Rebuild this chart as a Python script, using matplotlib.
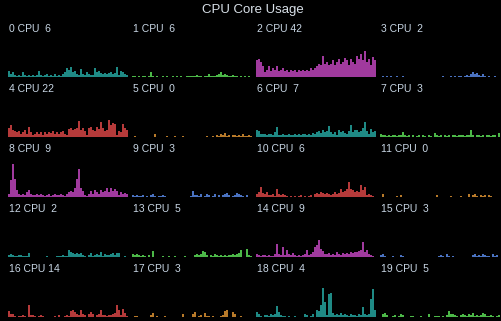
import numpy as np
import matplotlib.pyplot as plt

# Usage samples per core (percent), oldest -> newest
cpu0 = [10, 5, 8, 3, 2, 3, 2, 8, 3, 2, 3, 2, 3, 2, 3, 10, 3, 2, 3, 5,
        2, 3, 2, 5, 2, 3, 2, 5, 8, 15, 12, 17, 8, 10, 5, 3, 13, 5, 3, 8,
        5, 3, 4, 15, 8, 10, 6, 5, 7, 5, 6, 8, 5, 7, 17, 3, 10, 8, 5, 3]
cpu1 = [2, 2, 0, 2, 0, 2, 2, 0, 2, 8, 2, 0, 2, 0, 0, 2, 0, 2, 0, 0,
        2, 0, 2, 0, 2, 0, 0, 2, 2, 2, 2, 2, 3, 2, 2, 0, 2, 2, 5, 2,
        2, 2, 3, 5, 8, 3, 5, 3, 2, 2, 3, 2, 2, 0, 2, 0, 2, 0, 2, 0]
cpu2 = [28, 30, 25, 18, 8, 12, 18, 10, 15, 12, 18, 10, 12, 15, 10, 12, 8, 12, 10, 12,
        8, 12, 10, 12, 10, 12, 10, 15, 12, 15, 18, 22, 20, 35, 22, 25, 20, 22, 28, 20,
        25, 30, 22, 25, 32, 28, 20, 30, 25, 22, 35, 30, 38, 28, 43, 25, 30, 20, 33, 28]
cpu3 = [0, 2, 0, 2, 0, 2, 0, 0, 2, 0, 0, 2, 0, 0, 0, 0, 0, 0, 0, 0,
        0, 0, 0, 0, 0, 0, 0, 0, 0, 0, 0, 2, 0, 0, 0, 2, 0, 2, 0, 2,
        2, 0, 2, 3, 2, 5, 8, 5, 6, 3, 2, 5, 2, 0, 2, 0, 0, 2, 0, 0]
cpu4 = [15, 20, 12, 10, 8, 10, 5, 8, 12, 5, 17, 8, 3, 5, 8, 5, 8, 3, 8, 5,
        8, 6, 10, 5, 8, 5, 8, 10, 5, 3, 13, 15, 12, 13, 15, 27, 12, 15, 10, 3,
        15, 17, 12, 10, 17, 13, 25, 15, 10, 12, 28, 20, 23, 22, 3, 10, 8, 22, 15, 12]
cpu5 = [0, 2, 0, 0, 0, 0, 0, 0, 0, 0, 0, 5, 0, 0, 0, 0, 0, 2, 0, 0,
        0, 2, 0, 0, 0, 2, 0, 0, 0, 0, 0, 0, 0, 0, 0, 0, 0, 2, 0, 0,
        2, 0, 3, 2, 5, 3, 6, 2, 3, 0, 3, 3, 2, 3, 2, 5, 2, 2, 3, 2]
cpu6 = [12, 10, 5, 5, 5, 3, 5, 5, 3, 8, 17, 3, 3, 5, 3, 3, 5, 3, 3, 5,
        3, 5, 3, 5, 5, 3, 5, 3, 7, 5, 8, 10, 7, 12, 8, 10, 18, 8, 5, 8,
        3, 12, 8, 10, 7, 5, 10, 20, 8, 12, 12, 8, 10, 15, 25, 10, 5, 13, 8, 10]
cpu7 = [5, 3, 3, 2, 3, 2, 3, 3, 2, 3, 3, 8, 3, 2, 3, 0, 3, 0, 2, 3,
        0, 3, 2, 0, 3, 2, 0, 7, 3, 2, 3, 0, 3, 2, 3, 0, 3, 3, 2, 3,
        3, 3, 2, 3, 3, 12, 3, 0, 3, 3, 2, 3, 0, 3, 3, 2, 3, 3, 0, 7]
cpu8 = [5, 28, 55, 30, 12, 5, 3, 5, 3, 8, 12, 5, 3, 3, 5, 3, 5, 3, 2, 3,
        5, 2, 3, 5, 3, 3, 5, 3, 2, 5, 8, 10, 8, 15, 30, 47, 15, 10, 3, 2,
        5, 10, 5, 12, 8, 5, 12, 8, 10, 15, 8, 15, 10, 13, 10, 3, 8, 5, 7, 5]
cpu9 = [3, 2, 3, 2, 2, 3, 0, 2, 0, 3, 5, 2, 0, 2, 2, 3, 2, 0, 0, 0,
        0, 0, 0, 0, 0, 0, 0, 0, 0, 2, 10, 3, 3, 2, 5, 0, 2, 5, 3, 0,
        2, 5, 0, 3, 0, 3, 5, 7, 3, 0, 2, 3, 7, 5, 3, 2, 0, 3, 0, 0]
cpu10 = [5, 8, 17, 7, 5, 8, 3, 3, 5, 2, 13, 5, 3, 5, 3, 2, 0, 2, 0, 2,
         0, 2, 3, 0, 2, 0, 2, 3, 0, 5, 7, 5, 8, 7, 5, 7, 5, 3, 5, 8,
         5, 7, 13, 8, 10, 13, 25, 13, 12, 8, 10, 8, 20, 12, 17, 3, 5, 3, 2, 0]
cpu11 = [0, 5, 0, 0, 0, 0, 0, 0, 2, 0, 3, 0, 0, 0, 0, 0, 0, 0, 0, 0,
         0, 0, 0, 0, 0, 0, 0, 0, 3, 0, 0, 0, 0, 0, 0, 2, 0, 0, 0, 0,
         2, 0, 0, 0, 5, 0, 3, 5, 2, 0, 3, 2, 3, 0, 3, 2, 0, 0, 0, 0]
cpu12 = [3, 5, 3, 2, 2, 3, 3, 2, 2, 2, 7, 0, 0, 0, 0, 0, 0, 0, 0, 2,
         0, 0, 0, 0, 2, 2, 2, 3, 2, 2, 12, 8, 7, 5, 7, 5, 7, 3, 2, 0,
         3, 7, 2, 3, 5, 3, 8, 2, 5, 3, 3, 5, 7, 3, 7, 7, 0, 0, 2, 0]
cpu13 = [5, 3, 5, 3, 2, 3, 2, 0, 3, 0, 10, 0, 0, 0, 0, 2, 0, 0, 2, 0,
         0, 2, 0, 0, 0, 0, 2, 0, 0, 0, 0, 3, 5, 3, 5, 10, 8, 3, 0, 3,
         2, 5, 3, 2, 3, 2, 3, 2, 3, 3, 5, 3, 5, 7, 12, 0, 0, 13, 3, 2]
cpu14 = [5, 3, 2, 3, 3, 2, 3, 2, 2, 5, 22, 5, 3, 17, 3, 12, 5, 3, 7, 3,
         2, 3, 2, 3, 5, 12, 3, 5, 8, 17, 20, 28, 13, 10, 5, 5, 7, 3, 5, 3,
         8, 5, 3, 7, 5, 7, 5, 8, 7, 8, 8, 10, 12, 25, 8, 12, 5, 3, 2, 0]
cpu15 = [3, 5, 2, 0, 0, 0, 2, 0, 0, 0, 3, 2, 0, 0, 0, 0, 0, 0, 0, 0,
         0, 0, 0, 0, 0, 0, 0, 0, 0, 2, 3, 2, 0, 5, 2, 0, 2, 0, 0, 0,
         0, 0, 0, 0, 0, 0, 3, 5, 2, 3, 2, 5, 3, 2, 2, 0, 5, 2, 3, 0]
cpu16 = [10, 5, 5, 2, 0, 2, 2, 3, 2, 0, 20, 3, 3, 2, 0, 2, 3, 2, 0, 0,
         0, 0, 0, 2, 0, 3, 0, 0, 2, 3, 2, 10, 12, 8, 5, 3, 12, 5, 3, 0,
         5, 8, 5, 0, 3, 5, 12, 3, 3, 2, 3, 3, 5, 7, 20, 12, 3, 13, 7, 2]
cpu17 = [0, 2, 2, 0, 0, 0, 0, 0, 0, 3, 7, 0, 2, 0, 0, 0, 2, 0, 0, 0,
         0, 0, 0, 0, 0, 5, 0, 0, 0, 0, 5, 8, 0, 2, 3, 0, 7, 2, 2, 0,
         2, 0, 0, 0, 2, 3, 10, 12, 0, 0, 8, 5, 0, 0, 2, 0, 0, 0, 0, 0]
cpu18 = [8, 5, 2, 0, 3, 3, 2, 5, 3, 5, 18, 8, 3, 2, 2, 0, 2, 0, 0, 2,
         0, 0, 0, 0, 5, 3, 0, 2, 5, 0, 12, 10, 20, 48, 25, 3, 38, 40, 7, 3,
         5, 3, 7, 3, 5, 3, 2, 5, 3, 3, 2, 5, 3, 17, 5, 3, 5, 30, 47, 12]
cpu19 = [0, 5, 7, 3, 0, 0, 2, 3, 0, 2, 5, 3, 0, 0, 0, 2, 2, 0, 0, 0,
         2, 0, 0, 0, 5, 0, 0, 2, 2, 2, 0, 2, 0, 3, 10, 5, 5, 3, 2, 0,
         3, 5, 3, 2, 5, 3, 7, 2, 3, 2, 3, 7, 5, 2, 2, 3, 2, 0, 2, 3]

series = [cpu0, cpu1, cpu2, cpu3, cpu4, cpu5, cpu6, cpu7, cpu8, cpu9,
          cpu10, cpu11, cpu12, cpu13, cpu14, cpu15, cpu16, cpu17, cpu18, cpu19]
current = [6, 6, 42, 2, 22, 0, 7, 3, 9, 3, 6, 0, 2, 5, 9, 3, 14, 3, 4, 5]
colors = ["#1f8a85", "#4cb848", "#a03a9e", "#4a72c0", "#b53a3a", "#b87a2a"]

W, H = 502, 321
fig = plt.figure(figsize=(W / 100, H / 100), dpi=100, facecolor="black")
fig.text(253 / W, 1 - 10.5 / H, "CPU Core Usage", color="#d8e0e8",
         fontsize=9.5, family="Liberation Sans", ha="center", va="center")

for i, vals in enumerate(series):
    row, col = divmod(i, 4)
    left = 8 + col * 124
    bottom = H - (77 + row * 60)
    ax = fig.add_axes([left / W, bottom / H, 120 / W, 60 / H])
    ax.set_facecolor("black")
    x = np.arange(len(vals))
    ax.bar(x, vals, width=1.0, color=colors[i % 6], linewidth=0)
    ax.set_xlim(-0.5, len(vals) - 0.5)
    ax.set_ylim(0, 100)
    ax.axis("off")
    ax.text(1 / 120, 0.795, f"{i} CPU {current[i]:>2}", transform=ax.transAxes,
            color="#c8d6e4", fontsize=7.5, family="Liberation Sans",
            ha="left", va="center")

fig.savefig("out.png", dpi=100, facecolor="black")
